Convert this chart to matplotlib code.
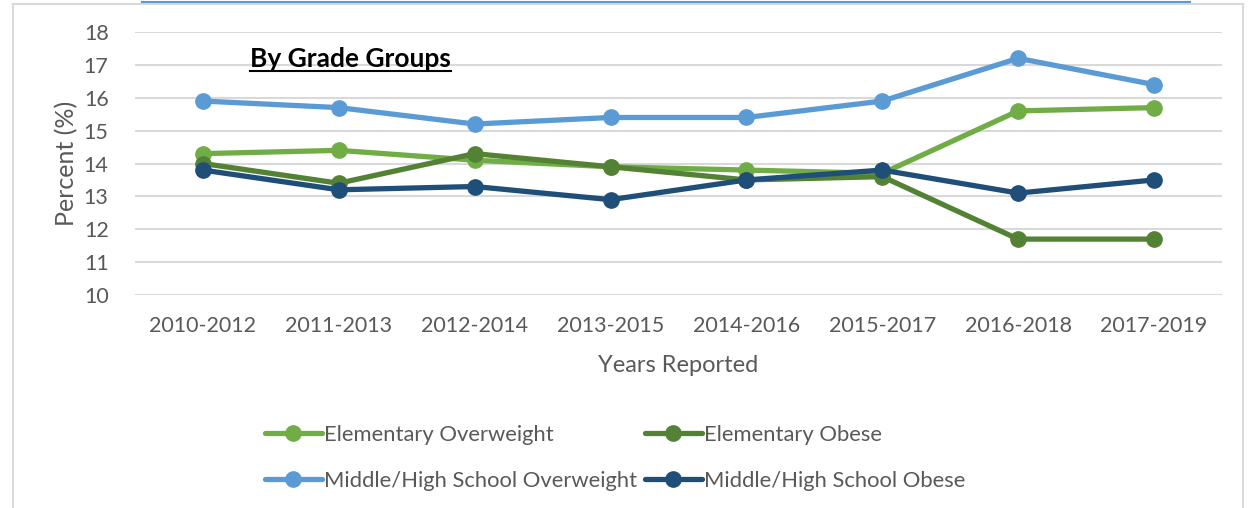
import matplotlib.pyplot as plt
from matplotlib.lines import Line2D

# data
years = ["2010-2012", "2011-2013", "2012-2014", "2013-2015",
         "2014-2016", "2015-2017", "2016-2018", "2017-2019"]
elem_overweight = [14.3, 14.4, 14.1, 13.9, 13.8, 13.7, 15.6, 15.7]
elem_obese = [14.0, 13.4, 14.3, 13.9, 13.5, 13.6, 11.7, 11.7]
mhs_overweight = [15.9, 15.7, 15.2, 15.4, 15.4, 15.9, 17.2, 16.4]
mhs_obese = [13.8, 13.2, 13.3, 12.9, 13.5, 13.8, 13.1, 13.5]

labels = ["Elementary Overweight", "Elementary Obese",
          "Middle/High School Overweight", "Middle/High School Obese"]
colors = ["#70AD47", "#548235", "#5B9BD5", "#1F4E79"]

plt.rcParams["font.family"] = ["Lato", "DejaVu Sans"]
text_color = "#595959"

W, H = 1251, 508
fig = plt.figure(figsize=(W / 100, H / 100), dpi=100)

# chart frame and the blue line above it
fig.add_artist(Line2D([13 / W, 13 / W], [0, 1 - 4 / H], color="#D9D9D9", lw=1.5))
fig.add_artist(Line2D([13 / W, 1243 / W], [1 - 4 / H, 1 - 4 / H], color="#D9D9D9", lw=1.5))
fig.add_artist(Line2D([1243 / W, 1243 / W], [0, 1 - 4 / H], color="#D9D9D9", lw=1.5))
fig.add_artist(Line2D([142 / W, 1190 / W], [1 - 2 / H, 1 - 2 / H], color="#5B9BD5", lw=1.5))

ax = fig.add_axes([135 / W, 1 - 295 / H, (1222 - 135) / W, (295 - 32) / H])

x = list(range(len(years)))
series = [elem_overweight, elem_obese, mhs_overweight, mhs_obese]
handles = []
for vals, lab, col in zip(series, labels, colors):
    h, = ax.plot(x, vals, color=col, lw=3.8, marker="o", markersize=11,
                 label=lab, solid_capstyle="round")
    handles.append(h)

ax.set_xlim(-0.5, len(years) - 0.5)
ax.set_ylim(10, 18)
ax.set_yticks(range(10, 19))
ax.set_xticks(x)
ax.set_xticklabels(years)
ax.grid(axis="y", color="#D9D9D9", lw=1.5)
ax.set_axisbelow(True)
for s in ax.spines.values():
    s.set_visible(False)
ax.tick_params(length=0, labelsize=15.5, colors=text_color)
ax.tick_params(axis="y", pad=19)
ax.tick_params(axis="x", pad=15)

ax.set_ylabel("Percent (%)", fontsize=18, color=text_color, labelpad=4)
ax.set_xlabel("Years Reported", fontsize=17, color=text_color, labelpad=14)

title = fig.text(250 / W, 1 - 59 / H, "By Grade Groups", fontsize=19,
                 fontweight="bold", color="black", va="center", ha="left")
fig.canvas.draw()
bb = title.get_window_extent()
fig.add_artist(Line2D([bb.x0 / W, bb.x1 / W], [1 - 71 / H, 1 - 71 / H],
                      color="black", lw=1.5))

order = [0, 2, 1, 3]
fig.legend([handles[i] for i in order], [labels[i] for i in order],
           ncol=2, loc="center left", bbox_to_anchor=(245 / W, 1 - 458 / H),
           frameon=False, fontsize=15.8, labelcolor=text_color,
           handlelength=2.6, handletextpad=0.1, columnspacing=0.35,
           labelspacing=1.2)

fig.savefig("out.png", dpi=100)
